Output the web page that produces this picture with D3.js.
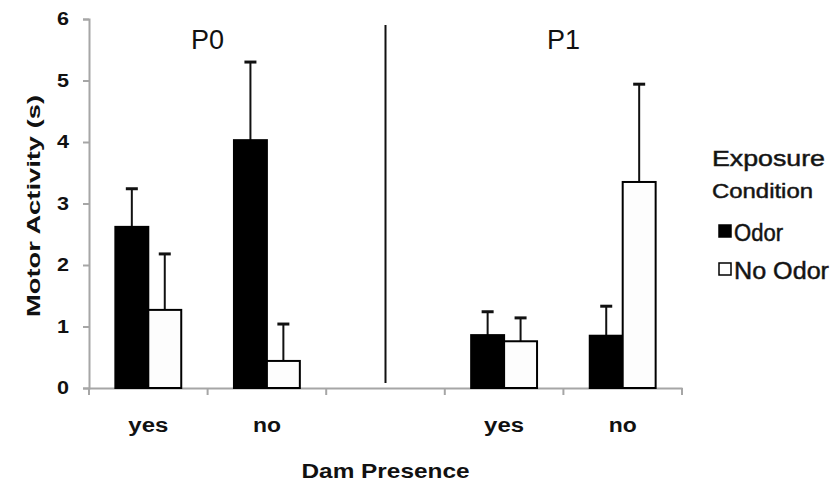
<!DOCTYPE html>
<html>
<head>
<meta charset="utf-8">
<script src="https://cdn.jsdelivr.net/npm/d3@7"></script>
<style>
  body { margin: 0; background: #fff; }
  svg text { font-family: "Liberation Sans", Arial, sans-serif; fill: #111; }
  .legend text { stroke: #222; stroke-width: 0.5px; }
</style>
</head>
<body>
<div id="chart"></div>
<script>
// data
var categories = ["yes", "no", "", "yes ", "no "];
var series = ["Odor", "No Odor"];
var odorMean = [2.62, 4.03, null, 0.86, 0.85];
var odorErr = [0.62, 1.27, null, 0.38, 0.48];
var noOdorMean = [1.27, 0.44, null, 0.76, 3.35];
var noOdorErr = [0.91, 0.60, null, 0.38, 1.59];
var yTicks = [0, 1, 2, 3, 4, 5, 6];
var panels = [{ label: "P0", cats: ["yes", "no"] }, { label: "P1", cats: ["yes ", "no "] }];

var width = 832, height = 487;
var svg = d3.select("#chart").append("svg")
    .attr("width", width)
    .attr("height", height);

var x0 = 89, x1 = 682, yTop = 19, yBot = 388;

var x = d3.scaleBand().domain(categories).range([x0, x1]);
var xs = d3.scaleBand().domain(series).range([0, x.bandwidth()]).paddingOuter(0.8).paddingInner(0);
var y = d3.scaleLinear().domain([0, 6]).range([yBot, yTop]);

var rows = [];
categories.forEach(function(c, i) {
    if (odorMean[i] == null) return;
    rows.push({ cat: c, s: "Odor", v: odorMean[i], e: odorErr[i] });
    rows.push({ cat: c, s: "No Odor", v: noOdorMean[i], e: noOdorErr[i] });
});

function cx(d) { return x(d.cat) + xs(d.s) + xs.bandwidth() / 2; }

// error bars (drawn first, bars sit on top)
var eb = svg.append("g").selectAll("g")
    .data(rows)
    .enter().append("g");
eb.append("line")
    .attr("x1", cx).attr("x2", cx)
    .attr("y1", function(d) { return y(d.v); })
    .attr("y2", function(d) { return y(d.v + d.e); })
    .attr("stroke", "#111").attr("stroke-width", 2);
eb.append("line")
    .attr("x1", function(d) { return cx(d) - 6; })
    .attr("x2", function(d) { return cx(d) + 6; })
    .attr("y1", function(d) { return y(d.v + d.e); })
    .attr("y2", function(d) { return y(d.v + d.e); })
    .attr("stroke", "#111").attr("stroke-width", 3);

// y axis
var yAxis = svg.append("g")
    .attr("transform", "translate(" + x0 + ",0)")
    .call(d3.axisLeft(y).tickValues(yTicks).tickSize(6).tickPadding(14).tickFormat(d3.format("d")));
yAxis.select(".domain").attr("stroke", "#a6a6a6").attr("stroke-width", 2);
yAxis.selectAll(".tick line").attr("stroke", "#a6a6a6").attr("stroke-width", 2);
yAxis.selectAll("text").attr("font-size", 18).attr("font-weight", "bold")
    .attr("textLength", 12).attr("lengthAdjust", "spacingAndGlyphs")
    .style("font-family", "Liberation Sans, Arial, sans-serif").attr("fill", "#222");

// x axis
var xAxis = svg.append("g")
    .attr("transform", "translate(0," + yBot + ")")
    .call(d3.axisBottom(x).tickSize(0).tickPadding(30));
xAxis.select(".domain").attr("stroke", "#a6a6a6").attr("stroke-width", 2);
xAxis.selectAll("text").attr("font-size", 20).attr("font-weight", "bold")
    .attr("textLength", function(d) { return d.trim() == "yes" ? 40 : 28; })
    .attr("lengthAdjust", "spacingAndGlyphs")
    .style("font-family", "Liberation Sans, Arial, sans-serif").attr("fill", "#222");
var bounds = categories.map(function(c) { return x(c); }).concat([x1]);
svg.append("g").selectAll("line")
    .data(bounds)
    .enter().append("line")
    .attr("x1", function(d) { return d; }).attr("x2", function(d) { return d; })
    .attr("y1", yBot).attr("y2", yBot + 7)
    .attr("stroke", "#a6a6a6").attr("stroke-width", 2);

// bars
svg.append("g").selectAll("rect")
    .data(rows)
    .enter().append("rect")
    .attr("x", function(d) { return x(d.cat) + xs(d.s); })
    .attr("y", function(d) { return y(d.v); })
    .attr("width", xs.bandwidth())
    .attr("height", function(d) { return y(0) - y(d.v); })
    .attr("fill", function(d) { return d.s == "Odor" ? "#000" : "#fdfdfd"; })
    .attr("stroke", "#000")
    .attr("stroke-width", 2);

// divider between P0 and P1
var mid = x("") + x.bandwidth() / 2;
svg.append("line")
    .attr("x1", mid).attr("x2", mid)
    .attr("y1", 25).attr("y2", 383)
    .attr("stroke", "#111").attr("stroke-width", 2);

// panel labels
svg.append("g").selectAll("text")
    .data(panels)
    .enter().append("text")
    .attr("x", function(d) { return (x(d.cats[0]) + x(d.cats[1]) + x.bandwidth()) / 2; })
    .attr("y", 49)
    .attr("text-anchor", "middle")
    .attr("font-size", 27)
    .text(function(d) { return d.label; });

// axis titles
svg.append("text")
    .attr("transform", "translate(40,206) rotate(-90)")
    .attr("text-anchor", "middle")
    .attr("font-size", 19).attr("font-weight", "bold")
    .attr("textLength", 222).attr("lengthAdjust", "spacingAndGlyphs")
    .text("Motor Activity (s)");
svg.append("text")
    .attr("x", mid).attr("y", 478)
    .attr("text-anchor", "middle")
    .attr("font-size", 21).attr("font-weight", "bold")
    .attr("textLength", 168).attr("lengthAdjust", "spacingAndGlyphs")
    .text("Dam Presence");

// legend
var legend = svg.append("g").attr("class", "legend");
legend.append("text").attr("x", 712).attr("y", 166).attr("font-size", 22)
    .attr("textLength", 113).attr("lengthAdjust", "spacingAndGlyphs").text("Exposure");
legend.append("text").attr("x", 712).attr("y", 198).attr("font-size", 21)
    .attr("textLength", 101).attr("lengthAdjust", "spacingAndGlyphs").text("Condition");
var leg = legend.selectAll("g")
    .data(series)
    .enter().append("g")
    .attr("transform", function(d, i) { return "translate(719," + (225 + i * 38) + ")"; });
leg.append("rect")
    .attr("width", 12).attr("height", 12)
    .attr("fill", function(d) { return d == "Odor" ? "#000" : "#fff"; })
    .attr("stroke", "#000").attr("stroke-width", 1.5);
leg.append("text")
    .attr("x", 15).attr("y", 16)
    .attr("font-size", 23)
    .attr("textLength", function(d) { return d == "Odor" ? 49 : 95; })
    .attr("lengthAdjust", "spacingAndGlyphs")
    .text(function(d) { return d; });
</script>
</body>
</html>
